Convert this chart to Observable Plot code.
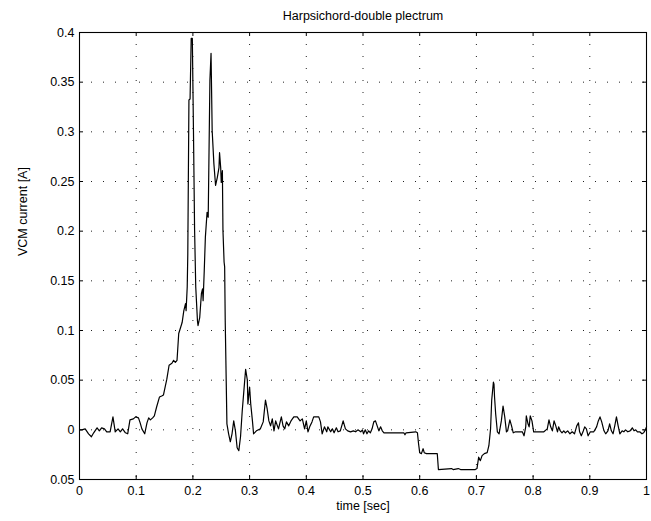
<!DOCTYPE html>
<html><head><meta charset="utf-8">
<script src="https://cdn.jsdelivr.net/npm/d3@7"></script>
<script src="https://cdn.jsdelivr.net/npm/@observablehq/plot@0.6"></script>
<style>body{margin:0;background:#fff}</style>
</head><body><div id="chart"></div>
<script>
const title = "Harpsichord-double plectrum";
const xLabel = "time [sec]";
const yLabel = "VCM current [A]";
const xTicks = [0,0.1,0.2,0.3,0.4,0.5,0.6,0.7,0.8,0.9,1];
const xTickLabels = ["0","0.1","0.2","0.3","0.4","0.5","0.6","0.7","0.8","0.9","1"];
const yTicks = [-0.05,0,0.05,0.1,0.15,0.2,0.25,0.3,0.35,0.4];
const yTickLabels = ["0.05","0","0.05","0.1","0.15","0.2","0.25","0.3","0.35","0.4"];

// [time (s), current (A)]
const baseline = [[0,0],[0.004,0],[0.010,0.001],[0.016,-0.004],[0.021,-0.007],[0.025,-0.003],[0.031,0.002],[0.035,-0.001],[0.039,0.002],[0.044,0.001],[0.048,-0.002],[0.054,-0.002],[0.059,0.013],[0.063,-0.002],[0.068,0.001],[0.072,-0.002],[0.076,0.001],[0.081,-0.003],[0.085,-0.004],[0.089,0.010],[0.095,0.011],[0.099,0.013],[0.104,0.012],[0.107,0.007],[0.110,0.001],[0.115,-0.004],[0.119,0.007],[0.122,0.012],[0.125,0.010],[0.129,0.012],[0.132,0.014]];
const rise = [[0.136,0.023],[0.141,0.033],[0.145,0.034],[0.148,0.035],[0.151,0.043],[0.154,0.051],[0.158,0.065],[0.163,0.067],[0.166,0.070],[0.169,0.068],[0.172,0.070],[0.175,0.097],[0.181,0.108],[0.184,0.120],[0.187,0.127],[0.188,0.120],[0.190,0.144],[0.191,0.177]];
const pluck = [[0.193,0.332],[0.195,0.333],[0.197,0.394],[0.199,0.394],[0.201,0.301],[0.203,0.201],[0.205,0.144],[0.208,0.110],[0.209,0.105],[0.212,0.113],[0.215,0.137],[0.217,0.142],[0.218,0.130],[0.220,0.160],[0.222,0.194],[0.225,0.219],[0.227,0.214],[0.230,0.352],[0.232,0.379],[0.234,0.301],[0.237,0.268],[0.240,0.246],[0.243,0.254],[0.246,0.264],[0.247,0.279],[0.249,0.264],[0.250,0.249],[0.252,0.261],[0.253,0.201],[0.255,0.169],[0.256,0.164],[0.257,0.110]];
const release = [[0.260,0.006],[0.263,-0.004],[0.266,-0.012],[0.269,-0.004],[0.272,0.009],[0.275,-0.001],[0.278,-0.018],[0.281,-0.021],[0.284,-0.007],[0.287,0.019],[0.290,0.040],[0.293,0.061],[0.296,0.050],[0.297,0.026],[0.300,0.043],[0.302,0.026],[0.305,0.009],[0.307,-0.004],[0.312,-0.001],[0.319,0.001],[0.324,0.008],[0.328,0.030],[0.331,0.021],[0.334,0.009],[0.337,0.004],[0.340,0.011],[0.343,-0.001],[0.346,0.009],[0.349,0.004],[0.351,0.001],[0.356,0.013],[0.359,0.004],[0.362,0.001],[0.365,0.008],[0.369,0.004],[0.373,0.009],[0.378,0.013],[0.384,0.013],[0.389,0.009],[0.393,0.011],[0.397,0.001],[0.400,0.009],[0.403,-0.002],[0.406,0.003],[0.410,0.008],[0.413,0.013],[0.418,0.013],[0.422,0.013],[0.425,0.008],[0.428,-0.004],[0.432,0.003],[0.436,-0.002],[0.438,0.003],[0.443,-0.002],[0.446,0.001],[0.449,-0.003],[0.453,0.002],[0.456,-0.002],[0.460,-0.001],[0.465,0.009],[0.469,0.001],[0.473,-0.001],[0.478,-0.002],[0.483,-0.001],[0.487,-0.002],[0.491,0],[0.496,-0.002],[0.499,0],[0.501,-0.004],[0.504,0],[0.507,-0.004],[0.510,-0.001],[0.513,-0.003],[0.516,0.001],[0.519,0.008],[0.522,0.009],[0.525,0.004],[0.528,-0.001],[0.531,0.003],[0.534,-0.001],[0.537,-0.003]];
const damper = [[0.572,-0.003],[0.574,-0.005],[0.576,-0.003],[0.593,-0.002],[0.596,-0.003],[0.598,-0.014],[0.600,-0.023],[0.603,-0.024],[0.606,-0.019],[0.608,-0.023],[0.612,-0.024],[0.631,-0.024],[0.633,-0.040],[0.656,-0.039],[0.659,-0.040],[0.668,-0.039],[0.672,-0.040],[0.698,-0.040],[0.701,-0.039],[0.704,-0.0275],[0.707,-0.031],[0.710,-0.026],[0.714,-0.024],[0.719,-0.023],[0.722,-0.016]];
const tail = [[0.725,0.001],[0.727,0.030],[0.730,0.048],[0.731,0.046],[0.732,0.033],[0.734,0.016],[0.737,-0.002],[0.740,-0.004],[0.744,0.009],[0.747,0.024],[0.750,0.013],[0.753,-0.002],[0.755,-0.001],[0.759,0.010],[0.762,0.004],[0.765,-0.003],[0.769,-0.002],[0.775,-0.002],[0.781,-0.002],[0.784,-0.006],[0.787,0.003],[0.788,0.014],[0.791,0.006],[0.793,0.003],[0.795,0.014],[0.798,0.009],[0.801,-0.002],[0.807,-0.002],[0.813,-0.002],[0.819,-0.002],[0.825,0.001],[0.828,0.010],[0.831,0.003],[0.834,-0.001],[0.837,0.009],[0.840,0.004],[0.843,-0.002],[0.845,0.003],[0.848,-0.001],[0.851,-0.003],[0.854,-0.001],[0.857,-0.003],[0.861,-0.001],[0.865,-0.004],[0.869,-0.002],[0.873,-0.004],[0.877,0.004],[0.880,0.007],[0.882,-0.002],[0.885,-0.006],[0.888,-0.002],[0.891,0.003],[0.894,0.001],[0.897,-0.006],[0.901,-0.002],[0.907,-0.002],[0.912,0.003],[0.915,0.009],[0.918,0.013],[0.921,0.008],[0.925,-0.001],[0.928,-0.004],[0.932,-0.001],[0.935,0.006],[0.938,-0.001],[0.941,-0.004],[0.944,0.004],[0.947,0.013],[0.950,0.004],[0.953,-0.004],[0.957,-0.001],[0.960,-0.002],[0.963,0],[0.967,-0.002],[0.971,-0.001],[0.975,0.002],[0.978,-0.001],[0.981,0],[0.984,-0.002],[0.988,-0.002],[0.992,-0.004],[0.995,-0.003],[0.998,0],[1.0,0.003]];

const data = [...baseline, ...rise, ...pluck, ...release, ...damper, ...tail].map(([t, v]) => ({t, v}));
const xTickData = xTicks.map((v, i) => ({v, label: xTickLabels[i]}));
const yTickData = yTicks.map((v, i) => ({v, label: yTickLabels[i]}));

const W = 651, H = 521, mt = 32, mb = 42, ml = 79, mr = 5;
const innerW = W - ml - mr, innerH = H - mt - mb;
const font = "'Liberation Sans', Arial, Helvetica, sans-serif";
const fs = 12.5;
const grid = {stroke: "#222", strokeWidth: 1, strokeDasharray: "1,11"};

const chart = Plot.plot({
  width: W, height: H,
  marginTop: mt, marginBottom: mb, marginLeft: ml, marginRight: mr,
  x: {domain: [0, 1], axis: null},
  y: {domain: [-0.05, 0.4], axis: null},
  style: {fontFamily: font, fontSize: fs + "px", background: "#fff", color: "#000"},
  marks: [
    Plot.ruleX(xTicks.slice(1, -1), {x: d => d, ...grid}),
    Plot.ruleY(yTicks.slice(1, -1), {y: d => d, ...grid}),
    Plot.line(data, {x: "t", y: "v", stroke: "#000", strokeWidth: 1.2}),
    Plot.tickX(xTicks, {x: d => d, insetTop: innerH - 4, stroke: "#000"}),
    Plot.tickX(xTicks, {x: d => d, insetBottom: innerH - 4, stroke: "#000"}),
    Plot.tickY(yTicks, {y: d => d, insetRight: innerW - 4, stroke: "#000"}),
    Plot.tickY(yTicks, {y: d => d, insetLeft: innerW - 4, stroke: "#000"}),
    Plot.frame({stroke: "#000", strokeWidth: 1.1}),
    Plot.text(xTickData, {x: "v", text: "label", frameAnchor: "bottom", dy: 15, fontSize: fs, fill: "#000"}),
    Plot.text(yTickData, {y: "v", text: "label", frameAnchor: "left", dx: -5, textAnchor: "end", fontSize: fs, fill: "#000"}),
    Plot.text([xLabel], {text: d => d, frameAnchor: "bottom", dy: 30, fontSize: fs, fill: "#000"}),
    Plot.text([yLabel], {text: d => d, frameAnchor: "left", dx: -57, rotate: -90, fontSize: fs, fill: "#000"}),
    Plot.text([title], {text: d => d, frameAnchor: "top", dy: -21, fontSize: fs, fill: "#000"})
  ]
});
document.getElementById("chart").appendChild(chart);
</script>
</body></html>
